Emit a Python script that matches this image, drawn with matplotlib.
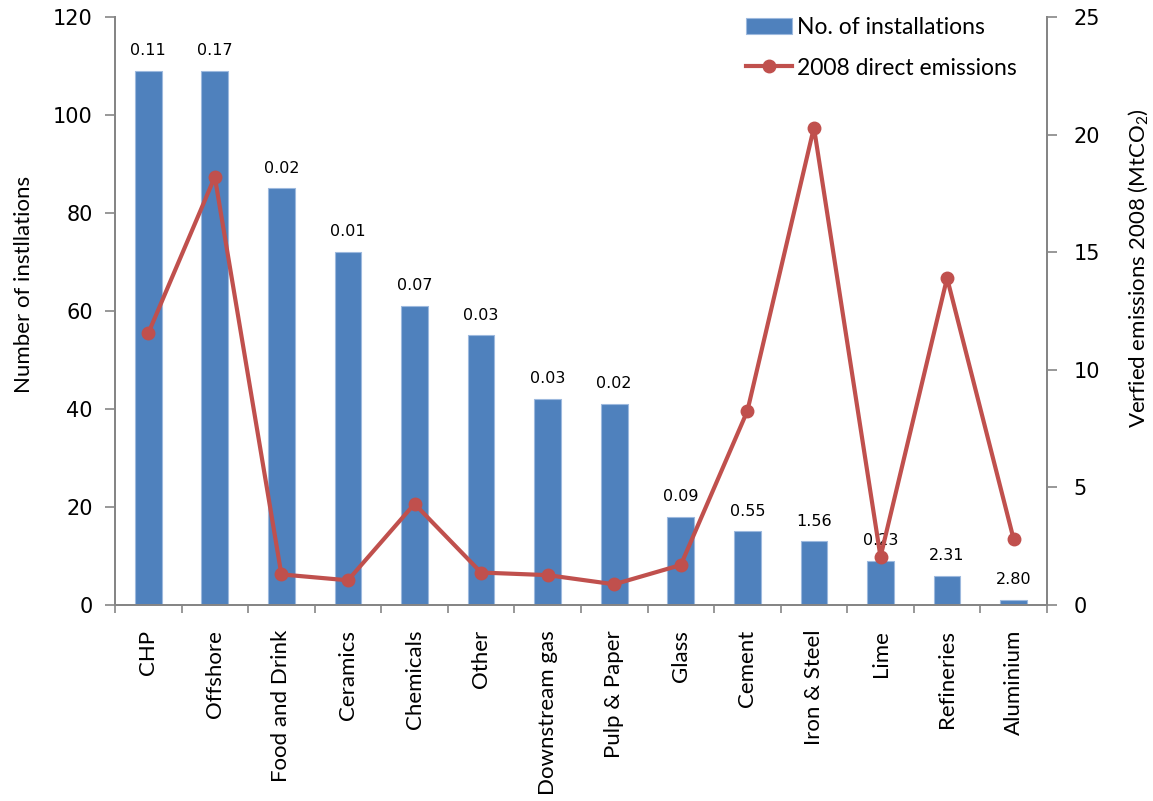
import matplotlib
matplotlib.use("Agg")
import matplotlib.pyplot as plt
import numpy as np

plt.rcParams['font.family'] = ['Lato', 'DejaVu Sans']
plt.rcParams['mathtext.fontset'] = 'custom'
plt.rcParams['mathtext.rm'] = 'Lato'
plt.rcParams['mathtext.it'] = 'Lato:italic'

sectors = ["CHP", "Offshore", "Food and Drink", "Ceramics", "Chemicals", "Other",
           "Downstream gas", "Pulp & Paper", "Glass", "Cement", "Iron & Steel",
           "Lime", "Refineries", "Aluminium"]
installations = [109, 109, 85, 72, 61, 55, 42, 41, 18, 15, 13, 9, 6, 1]
emissions_2008 = [11.55, 18.2, 1.3, 1.05, 4.3, 1.38, 1.27, 0.88, 1.7, 8.25, 20.3,
                  2.05, 13.9, 2.8]
per_installation = ["0.11", "0.17", "0.02", "0.01", "0.07", "0.03", "0.03", "0.02",
                    "0.09", "0.55", "1.56", "0.23", "2.31", "2.80"]

bar_color = "#4F81BD"
line_color = "#C0504D"
axis_gray = "#868686"

fig = plt.figure(figsize=(11.53, 8.01), dpi=100)
ax = fig.add_axes([0.0997, 0.2447, 0.8083, 0.7341])
ax2 = ax.twinx()

x = np.arange(len(sectors))
bars = ax.bar(x, installations, width=0.4, color=bar_color,
              edgecolor="#9DB9DE", linewidth=0.8, label="No. of installations", zorder=2)
for xi, h, lab in zip(x, installations, per_installation):
    ax.text(xi, h + 2.6, lab, ha="center", va="bottom", fontsize=11.5,
            family="DejaVu Sans", color="#000000", zorder=5)

line, = ax2.plot(x, emissions_2008, color=line_color, linewidth=3, marker="o",
                 markersize=9, label="2008 direct emissions", zorder=3)

ax.set_xlim(-0.5, len(sectors) - 0.5)
ax.set_ylim(0, 120)
ax2.set_ylim(0, 25)
ax.set_yticks(np.arange(0, 121, 20))
ax2.set_yticks(np.arange(0, 26, 5))

ax.set_xticks(x)
ax.set_xticklabels(sectors, rotation=90, fontsize=16)
ax.set_xticks(np.arange(-0.5, len(sectors), 1), minor=True)
ax.tick_params(axis="x", which="major", length=0, pad=18)
ax.tick_params(axis="x", which="minor", length=6, color=axis_gray, width=1.2, direction="out")

for a in (ax, ax2):
    for lbl in a.get_yticklabels():
        lbl.set_family("DejaVu Sans")
        lbl.set_fontsize(15)
ax.tick_params(axis="y", length=7, color=axis_gray, width=1.2, direction="out", pad=9)
ax2.tick_params(axis="y", length=7, color=axis_gray, width=1.2, direction="out", pad=12)

for a in (ax, ax2):
    a.spines["top"].set_visible(False)
    for side in ("left", "right", "bottom"):
        a.spines[side].set_color(axis_gray)
        a.spines[side].set_linewidth(1.4)

ax.set_ylabel("Number of instllations", fontsize=16)
ax2.set_ylabel("Verfied emissions 2008 (MtCO$_2$)", fontsize=16)
ax.yaxis.set_label_coords(-0.087, 0.546)
ax2.yaxis.set_label_coords(1.085, 0.573)

ax2.set_zorder(ax.get_zorder() + 1)
ax2.patch.set_visible(False)

leg = ax2.legend([bars, line], ["No. of installations", "2008 direct emissions"],
                 loc="upper right", bbox_to_anchor=(0.99, 1.035), frameon=False,
                 fontsize=16.5, handlelength=2.0, handletextpad=0.25, labelspacing=0.85)

fig.savefig("out.png", dpi=100)
